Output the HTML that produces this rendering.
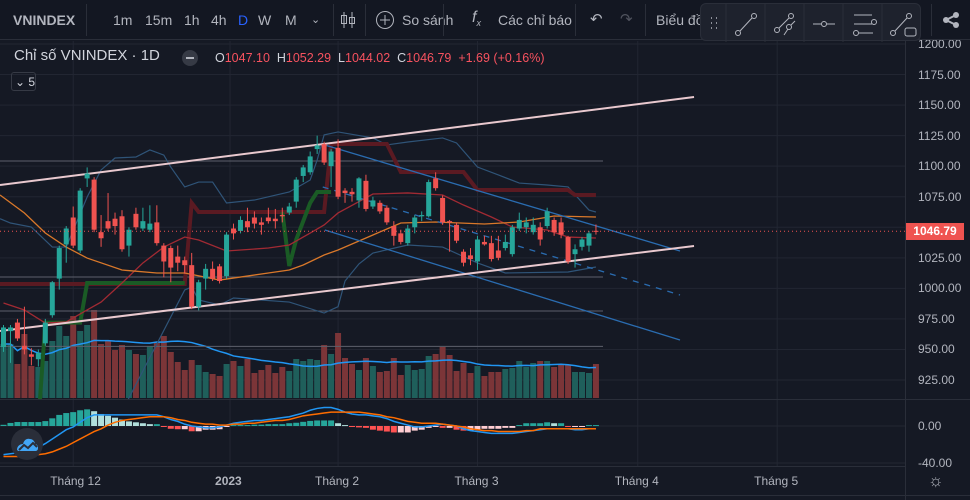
<!DOCTYPE html>
<html><head><meta charset="utf-8">
<style>
html,body{margin:0;padding:0;background:#151924;width:970px;height:500px;overflow:hidden;font-family:"Liberation Sans",sans-serif;}
#root{position:relative;width:970px;height:500px;}
svg{position:absolute;left:0;top:0;}
.tb{position:absolute;left:0;top:0;width:970px;height:40px;background:#131722;border-bottom:1px solid #2a2e39;box-sizing:border-box;color:#b2b5be;font-size:14px;}
.tb span{position:absolute;top:12px;white-space:nowrap;}
.dv{position:absolute;top:4px;width:1px;height:32px;background:#2a2e39;}
.ft{position:absolute;left:700px;top:3px;width:221px;height:38px;background:#1e222d;border:1px solid #2a2e39;border-radius:6px;box-sizing:border-box;}
.legend{position:absolute;left:14px;top:47px;color:#d1d4dc;font-size:15px;white-space:nowrap;}
.ohlc{position:absolute;left:215px;top:51px;font-size:12.5px;color:#d1d4dc;white-space:nowrap;}
.ohlc b{font-weight:normal;color:#f7525f;}
.ax{position:absolute;left:918px;font-size:12px;color:#b2b5be;white-space:nowrap;}
.tl{position:absolute;top:474px;font-size:12px;color:#b2b5be;white-space:nowrap;}
</style></head>
<body><div id="root">
<svg id="chart" width="970" height="500"></svg>

<div class="tb">
 <span style="left:13px;font-weight:bold;color:#b2b5be;">VNINDEX</span>
 <div class="dv" style="left:86px"></div>
 <span style="left:113px">1m</span>
 <span style="left:145px">15m</span>
 <span style="left:184px">1h</span>
 <span style="left:211px">4h</span>
 <span style="left:238px;color:#2962ff">D</span>
 <span style="left:258px">W</span>
 <span style="left:285px">M</span>
 <span style="left:311px;font-size:11px;top:13px">⌄</span>
 <div class="dv" style="left:333px"></div>
 <svg style="left:340px;top:11px" width="16" height="18"><path d="M4 1v16M12 1v16" stroke="#b2b5be"/><rect x="1.5" y="4.5" width="5" height="8" fill="none" stroke="#b2b5be"/><rect x="9.5" y="6.5" width="5" height="6" fill="none" stroke="#b2b5be"/></svg>
 <div class="dv" style="left:365px"></div>
 <svg style="left:375px;top:10px" width="20" height="20"><circle cx="10" cy="10" r="8.5" fill="none" stroke="#b2b5be"/><path d="M10 5v10M5 10h10" stroke="#b2b5be"/></svg>
 <span style="left:402px">So sánh</span>
 <div class="dv" style="left:443px"></div>
 <span style="left:472px;font-style:italic;top:9px;font-size:16px">f<sub style="font-size:9px">x</sub></span>
 <span style="left:498px">Các chỉ báo</span>
 <div class="dv" style="left:575px"></div>
 <span style="left:590px;font-size:15px;top:10px">↶</span>
 <span style="left:620px;font-size:15px;top:10px;color:#50535e">↷</span>
 <div class="dv" style="left:645px"></div>
 <span style="left:656px">Biểu đồ</span>
 <div class="dv" style="left:931px"></div>
 <svg style="left:942px;top:11px" width="18" height="18"><circle cx="14" cy="4" r="3" fill="#b2b5be"/><circle cx="4" cy="9" r="3" fill="#b2b5be"/><circle cx="14" cy="14" r="3" fill="#b2b5be"/><path d="M4 9L14 4M4 9l10 5" stroke="#b2b5be" stroke-width="2"/></svg>
</div>
<div class="ft">
 <svg width="221" height="38" style="position:absolute;left:0;top:0">
  <g fill="none" stroke="#b2b5be" stroke-width="1">
   <path d="M10 14h1M10 19h1M10 24h1M15 14h1M15 19h1M15 24h1" stroke-width="1.5"/>
   <path d="M25 0v38M64 0v38M103 0v38M142 0v38M181 0v38" stroke="#2a2e39"/>
   <circle cx="37" cy="29" r="2.5"/><circle cx="53" cy="12" r="2.5"/><path d="M39 27l12-13"/>
   <circle cx="76" cy="26" r="2.5"/><circle cx="90" cy="12" r="2.5"/><circle cx="88" cy="23" r="2.5"/><path d="M78 24l10-10M83 31l4-6M90 21l4-4"/>
   <circle cx="123" cy="20" r="2.5"/><path d="M112 20h8M126 20h8"/>
   <path d="M153 11h18M153 20h18M158 29h14"/><circle cx="173" cy="18" r="2.5"/><circle cx="155" cy="29" r="2.5"/>
   <circle cx="192" cy="29" r="2.5"/><circle cx="208" cy="12" r="2.5"/><path d="M194 27l12-13"/><rect x="204" y="24" width="11" height="8" rx="2"/>
  </g>
 </svg>
</div>

<div class="legend">Chỉ số VNINDEX · 1D</div>
<div style="position:absolute;left:182px;top:50px;width:16px;height:16px;border-radius:8px;background:#363a45"><div style="position:absolute;left:4px;top:7px;width:8px;height:2px;background:#b2b5be"></div></div>
<div class="ohlc">O<b>1047.10</b>&nbsp; H<b>1052.29</b>&nbsp; L<b>1044.02</b>&nbsp; C<b>1046.79</b>&nbsp; <b>+1.69 (+0.16%)</b></div>
<div style="position:absolute;left:11px;top:72px;width:25px;height:19px;border:1px solid #363a45;border-radius:3px;color:#d1d4dc;font-size:12px;line-height:18px;box-sizing:border-box;padding-left:3px;white-space:nowrap">⌄ 5</div>
<div style="position:absolute;left:11px;top:428px;width:32px;height:32px;border-radius:16px;background:#2a2e39">
 <svg width="32" height="32"><path d="M6 22c0-4 3-6 6-6 1-4 4-6 7-5 3 0 5 3 5 5 2 0 3 2 3 4 0 2-1 3-3 3H8c-1 0-2-1-2-1z" fill="#42a5f5"/><path d="M8 22l5-5 4 3 5-5 4 4" stroke="#2a2e39" stroke-width="2" fill="none"/></svg>
</div>
<div style="position:absolute;left:928px;top:471px;color:#b2b5be;font-size:17px">☼</div>
</div>

<script>
const opens=[952,965,972,953,946,942,955,978,1008,1036,1058,1031,1090,1089,1046,1055,1057,1059,1035,1061,1049,1048,1054,1035,1033,1026,1023,1019,985,1008,1016,1018,1010,1049,1047,1055,1058,1054,1058,1057,1060,1062,1071,1092,1095,1114,1118,1100,1115,1080,1079,1072,1088,1067,1070,1066,1051,1045,1037,1050,1059,1059,1090,1074,1055,1052,1030,1027,1022,1038,1037,1031,1033,1028,1049,1050,1046,1050,1051,1056,1054,1042,1028,1034,1035,1047.10];
const highs=[970,970,975,985,951,950,975,1006,1035,1051,1067,1082,1099,1091,1060,1078,1062,1064,1050,1066,1066,1068,1068,1037,1035,1035,1026,1029,1007,1020,1022,1020,1046,1053,1059,1066,1063,1058,1066,1065,1066,1070,1091,1101,1112,1125,1120,1114,1122,1082,1082,1091,1093,1075,1072,1068,1055,1048,1052,1060,1063,1089,1095,1076,1056,1054,1032,1033,1043,1043,1043,1043,1044,1052,1062,1058,1058,1054,1066,1058,1058,1043,1036,1042,1047,1052.29];
const lows=[948,939,957,946,937,936,953,976,999,1021,1033,1029,1083,1046,1034,1047,1044,1030,1026,1048,1047,1046,1035,1009,1005,1014,1012,983,982,999,1006,1004,1008,1040,1045,1046,1049,1044,1053,1049,1054,1060,1066,1087,1093,1110,1101,1083,1073,1070,1071,1066,1063,1065,1061,1052,1035,1036,1035,1045,1055,1058,1080,1052,1030,1037,1018,1019,1015,1035,1022,1023,1031,1026,1047,1045,1044,1035,1049,1043,1041,1020,1017,1031,1030,1044.02];
const closes=[968,968,959,950,944,947,972,1005,1033,1049,1035,1080,1094,1048,1041,1049,1051,1032,1048,1050,1055,1053,1037,1022,1017,1021,1019,985,1005,1016,1008,1006,1044,1045,1056,1050,1053,1052,1055,1055,1059,1067,1089,1099,1108,1117,1103,1112,1075,1078,1077,1090,1065,1072,1063,1054,1043,1038,1049,1058,1060,1087,1082,1054,1054,1039,1021,1024,1040,1036,1024,1025,1038,1050,1056,1054,1052,1040,1063,1046,1044,1022,1032,1040,1045,1046.79];
const volumes=[54,54,34,64,32,31,37,57,72,62,82,67,73,88,54,57,48,53,48,44,43,52,56,62,46,36,28,38,33,26,24,22,34,37,32,39,25,28,33,25,31,27,39,37,39,38,53,44,65,40,34,28,40,32,26,27,40,23,33,28,29,42,44,51,43,27,35,25,32,22,26,26,29,30,37,31,35,37,37,31,34,33,26,26,25,34];
const macdHist=[1.3,3.3,4.3,4.3,4.3,4.3,5.3,8.3,12,14,15,17,18,16,13,11,9,7,5,4,3,2,2,-0.7,-3,-3.5,-3.5,-5.7,-5.7,-4,-4,-3.5,-1,1,1,1,1.5,1.5,2,2,2,3,3.5,4.5,5.5,6,6,6,3,1,-1,-1.5,-2,-4,-5,-6,-7,-7,-7,-5,-4,-2,-1,-2,-2,-4,-5,-5,-4,-3,-3,-3,-2,-2,1,3,3,3,4,3,3,-1,-1,-1,1,1];
const macdLine=[-31,-30,-29,-28,-26,-23,-19,-14,-9,-4,-1,4,9,12,12,12,12,12,12,12,12,12,12,10,7,5,2,0,-1,-2,-2,-1,1,3,4,5,6,6,7,8,9,10,12,14,17,19,20,20,18,15,13,12,12,11,10,8,5,3,1,-1,-1,0,1,2,1,0,-3,-5,-6,-7,-8,-8,-8,-8,-7,-6,-5,-4,-3,-3,-3,-3,-4,-4,-3,-3];
const signalLine=[-33,-33,-33,-33,-32,-31,-30,-28,-25,-22,-18,-14,-10,-6,-3,1,4,6,7,8,9,10,10,10,9,7,6,4,3,2,2,1,1,2,2,3,3,4,5,6,6,7,9,11,12,13,14,15,15,15,15,15,14,13,12,10,9,7,5,4,3,3,3,2,1,0,-1,-3,-4,-5,-5,-6,-6,-6,-6,-5,-5,-3,-3,-3,-3,-3,-3,-3,-3,-3];
const ma20=[[0,988],[3,982.3],[6,971.6],[9,972.5],[12,982.3],[14,988.8],[17,1004.4],[20,1020.8],[23,1033.8],[26,1042],[28,1039.6],[32,1030.6],[38,1033],[41,1035.5],[44,1045.3],[46,1051.9],[48,1061.7],[53,1077.2],[58,1078.1],[63,1076.4],[66,1068.2],[70,1058.4],[73,1050.2],[78,1047.8],[81,1042],[85,1041.2]];
const ma50=[[-0.5,1076.4],[3,1061.7],[6,1045.3],[9,1033.8],[12,1024.8],[17,1015],[22,1012.6],[26,1012.6],[31,1006.8],[38,1012.6],[41,1015],[43,1019.1],[46,1027.3],[48,1031.4],[53,1043.7],[57,1053.5],[62,1054.3],[69,1052.7],[74,1054.3],[79,1059.2],[85,1058.4]];
const bbUpper=[[-0.5,1057],[1,1053.5],[4,1050.2],[7,1033.8],[9,1033.8],[12,1074.8],[14,1096.9],[16,1106.7],[19,1107.5],[21,1113.3],[23,1109.1],[24,1099.3],[26,1083],[28,1087],[30,1087],[32,1069.9],[36,1072.3],[41,1078.9],[44,1088.7],[45,1105],[46,1125.6],[48,1128],[53,1123.1],[55,1117.4],[58,1119.8],[63,1123.1],[65,1119],[68,1099.3],[71,1092.8],[74,1086.2],[78,1084.6],[81,1083],[84,1064.1],[85,1062.5]];
const bbLower=[[16,880],[17,900.4],[18,910.3],[26,998.7],[27,1001.1],[28,990.5],[31,986.4],[33,992.1],[41,988.8],[46,979.8],[48,985],[49,1006],[51,1020],[53,1028.9],[58,1035.5],[63,1033.8],[68,1020.8],[72,1012.6],[81,1013.4],[85,1017.5]];
const greenStepA=[[5,890],[6,972],[11,972],[12,1004.4],[26,1004.4]];
const greenStepB=[[40,1062.5],[41,1018.3],[42,1040],[44,1069.9],[45,1078.9],[47,1078.9]];
const redStep=[[-0.5,1003.6],[26,1003.6],[27,1069.9],[28,1062.5],[46,1062.5],[47,1118.2],[55,1118.2],[57,1095.2],[66,1095.2],[68,1080.5],[81,1080.5],[82,1076.4],[85,1076.4]];
const channelUpper=[[-0.5,1084.6],[99.07,1156.6]];
const channelLower=[[-0.5,965.1],[99.07,1034.7]];
const descUpper=[[46.1,1117.3],[97.06,1030.6]];
const descMid=[[45.8,1083],[97.06,994.6]];
const descLower=[[46.1,1047.8],[97.06,957.7]];
const levels=[1104.2,1009.3,981.5,952.5];
const priceTicks=[1200,1175,1150,1125,1100,1075,1050,1025,1000,975,950,925];
const macdTicks=[0,-40];
const timeLabels=["Tháng 12","2023","Tháng 2","Tháng 3","Tháng 4","Tháng 5"];
const timeIdx=[10,32.5,48,68,91,111];
const lastPrice=1046.79;

const NS="http://www.w3.org/2000/svg";
const svg=document.getElementById('chart');
const xS=k=>3.5+6.97*k;
const yP=p=>44+(1200-p)*1.2218;
const yV=v=>398-v;
const yM=v=>426-v*0.925;
function mk(tag,attrs,parent){const e=document.createElementNS(NS,tag);for(const a in attrs)e.setAttribute(a,attrs[a]);(parent||svg).appendChild(e);return e;}

const defs=mk('defs',{});
const cp=mk('clipPath',{id:'cpMain'},defs);mk('rect',{x:0,y:41,width:905,height:358},cp);
const cm=mk('clipPath',{id:'cpMacd'},defs);mk('rect',{x:0,y:400,width:905,height:66},cm);

const grid=mk('g',{stroke:'#222632','stroke-width':1});


priceTicks.forEach(p=>{mk('line',{x1:0,x2:905,y1:yP(p),y2:yP(p)},grid);});
timeIdx.forEach(k=>{mk('line',{x1:xS(k),x2:xS(k),y1:41,y2:466},grid);});
mk('line',{x1:0,x2:905,y1:yM(0),y2:yM(0)},grid);
mk('line',{x1:0,x2:905,y1:yM(-40),y2:yM(-40)},grid);
mk('line',{x1:905.5,x2:905.5,y1:41,y2:500,stroke:'#2a2e39'});
mk('line',{x1:0,x2:970,y1:399.5,y2:399.5,stroke:'#2a2e39'});
mk('line',{x1:0,x2:905,y1:466.5,y2:466.5,stroke:'#2a2e39'});
mk('line',{x1:0,x2:970,y1:495.5,y2:495.5,stroke:'#2a2e39'});

const main=mk('g',{'clip-path':'url(#cpMain)'});
const vg=mk('g',{},main);


volumes.forEach((v,i)=>{const up=closes[i]>=opens[i];
 const r=mk('rect',{x:xS(i)-3,y:yV(v),width:6,height:v,fill:up?'#1f5f5b':'#7b3538'},vg);
 
 });
const vma=volumes.map((v,i)=>{const s=volumes.slice(Math.max(0,i-19),i+1);return s.reduce((a,b)=>a+b,0)/s.length;});
const vl=mk('polyline',{points:vma.map((v,i)=>xS(i)+','+yV(v)).join(' '),fill:'none',stroke:'#2196f3','stroke-width':1.5},main);



function line(arr,color,w,name,dash){const e=mk('polyline',{points:arr.map(p=>xS(p[0])+','+yP(p[1])).join(' '),fill:'none',stroke:color,'stroke-width':w},main);
 if(dash)e.setAttribute('stroke-dasharray',dash);
 
 return e;}
levels.forEach(p=>{const e=mk('line',{x1:0,x2:603,y1:yP(p),y2:yP(p),stroke:'#5d606b','stroke-width':1},main);
 
 });
line(bbUpper,'#2f5478',1.2,'bollinger-upper');
line(bbLower,'#2f5478',1.2,'bollinger-lower');
line(redStep,'#5a1a22',4,'kijun-step-line');
line(greenStepA,'#1a5b25',4,'tenkan-step-line-a');
line(greenStepB,'#1a5b25',4,'tenkan-step-line-b');
line(ma20,'#a12a33',1.3,'ma20-line');
line(ma50,'#d9782a',1.3,'ma50-line');
line(descUpper,'#2a6cb0',1.3,'desc-channel-upper');
line(descMid,'#2a6cb0',1.3,'desc-channel-mid','6,6');
line(descLower,'#2a6cb0',1.3,'desc-channel-lower');
line(channelUpper,'#e9c9cf',2,'channel-upper');
line(channelLower,'#e9c9cf',2,'channel-lower');

const cg=mk('g',{},main);


opens.forEach((o,i)=>{const c=closes[i],up=c>=o,col=up?'#26a69a':'#ef5350';const x=xS(i);
 const w=mk('line',{x1:x,x2:x,y1:yP(highs[i]),y2:yP(lows[i]),stroke:col,'stroke-width':1},cg);
 
 
 const t=yP(Math.max(o,c)),b=yP(Math.min(o,c));
 const r=mk('rect',{x:x-2.5,y:t,width:5,height:Math.max(1,b-t),fill:col},cg);
 
 });
const lp=mk('line',{x1:0,x2:905,y1:yP(lastPrice),y2:yP(lastPrice),stroke:'#ef5350','stroke-dasharray':'1,3'});



const mg=mk('g',{'clip-path':'url(#cpMacd)'});


macdHist.forEach((v,i)=>{const prev=i?macdHist[i-1]:v;let col;
 if(v>=0)col=v>=prev?'#26a69a':'#b2dfdb';else col=v<prev?'#ff5252':'#ffcdd2';
 const y0=yM(0),y1=yM(v);
 const r=mk('rect',{x:xS(i)-3,y:Math.min(y0,y1),width:6,height:Math.max(1,Math.abs(y1-y0)),fill:col},mg);
 
 });
const ml=mk('polyline',{points:macdLine.map((v,i)=>xS(i)+','+yM(v)).join(' '),fill:'none',stroke:'#2196f3','stroke-width':1.5},mg);


const sl=mk('polyline',{points:signalLine.map((v,i)=>xS(i)+','+yM(v)).join(' '),fill:'none',stroke:'#ff6d00','stroke-width':1.5},mg);



const root=document.getElementById('root');
const tbEl=root.querySelector('.tb');
priceTicks.forEach(p=>{if(Math.abs(yP(p)-yP(lastPrice))<12)return;
 const d=document.createElement('div');d.className='ax';d.style.top=(yP(p)-7)+'px';d.textContent=p.toFixed(2);
 
 
 root.insertBefore(d,tbEl);});
macdTicks.forEach(v=>{const d=document.createElement('div');d.className='ax';d.style.top=(yM(v)-7)+'px';d.textContent=v.toFixed(2);
 
 
 root.appendChild(d);});
const lb=document.createElement('div');
lb.style.cssText='position:absolute;left:906px;width:58px;height:17px;background:#ef5350;color:#fff;font-size:12px;font-weight:bold;line-height:17px;text-align:center;top:'+(yP(lastPrice)-8)+'px';
lb.textContent=lastPrice.toFixed(2);


root.appendChild(lb);
timeLabels.forEach((t,i)=>{const d=document.createElement('div');d.className='tl';d.textContent=t;
 if(t==='2023'){d.style.fontWeight='bold';}
 d.style.left=(xS(timeIdx[i])-(t==='2023'?15:23))+'px';
 
 
 root.appendChild(d);});
</script>
</body></html>
